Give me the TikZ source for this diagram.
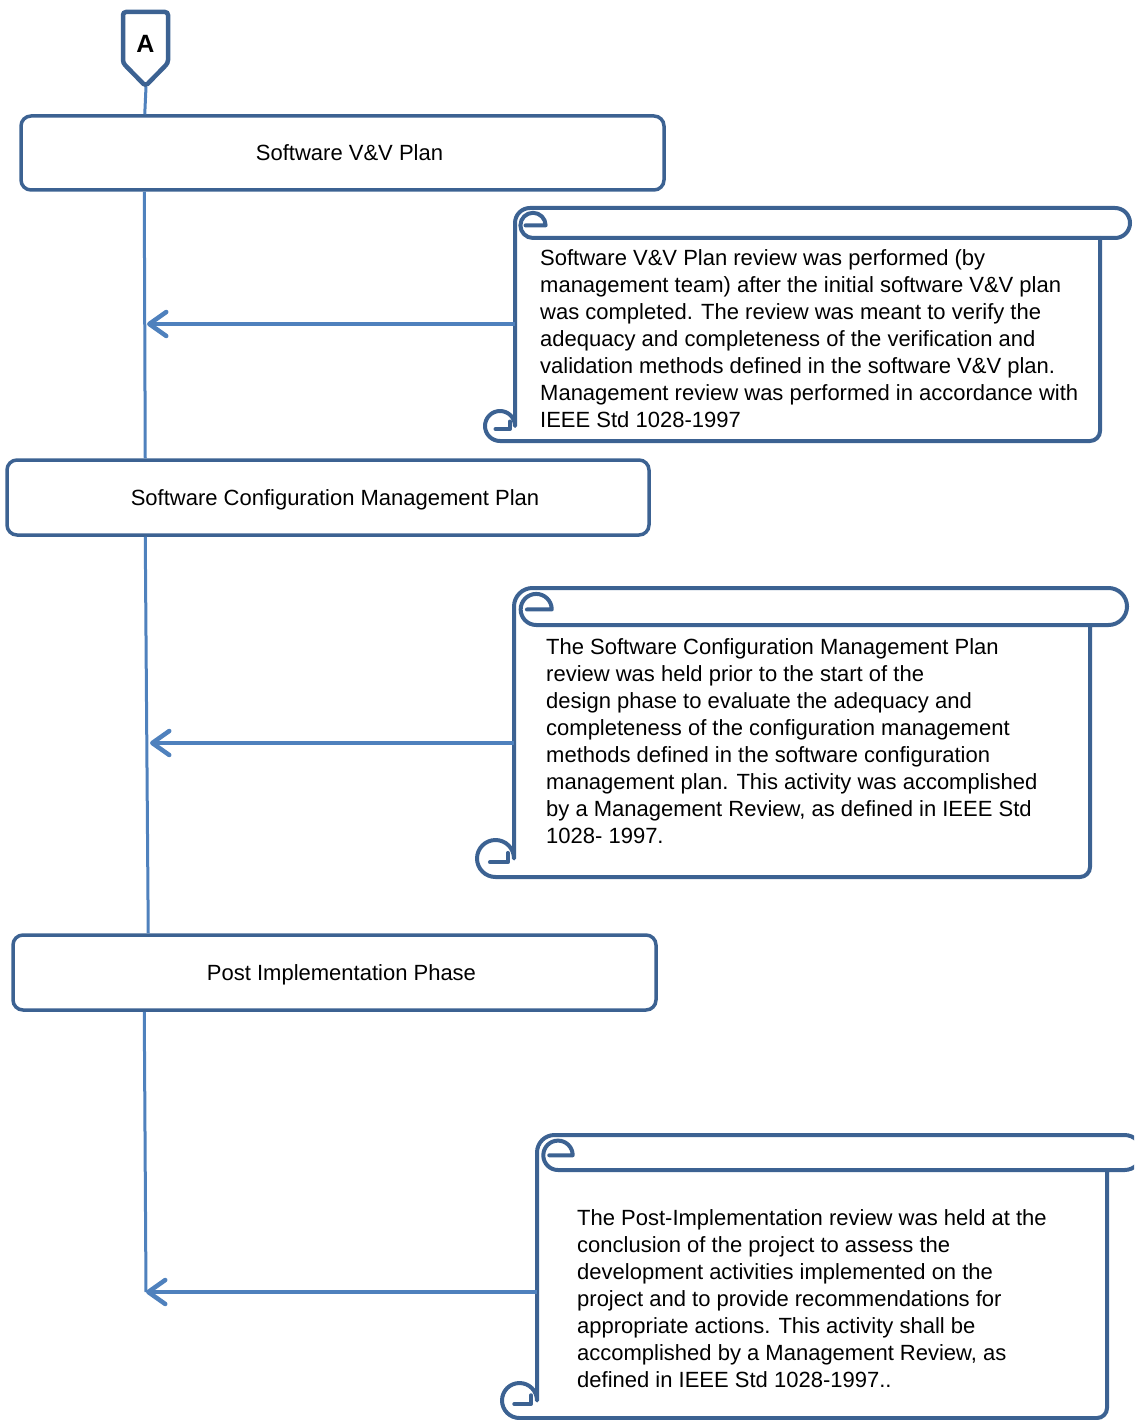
\documentclass[tikz,border=0pt]{standalone}
\usepackage{fontspec}
\setmainfont{Liberation Sans}
\usetikzlibrary{arrows.meta}
\definecolor{boxblue}{RGB}{60,98,146}
\definecolor{lineblue}{RGB}{79,129,189}
% #1=left #2=top #3=right #4=bottom #5=roll height
\newcommand\drawscroll[5]{%
  \pgfmathsetmacro\Sl{#1}\pgfmathsetmacro\St{#2}%
  \pgfmathsetmacro\Sr{#3}\pgfmathsetmacro\Sb{#4}%
  \pgfmathsetmacro\Sc{#5}\pgfmathsetmacro\Sh{#5/2}%
  \pgfmathsetmacro\Scx{#1+1.6*#5}\pgfmathsetmacro\Scy{#2+0.58*#5}%
  \pgfmathsetmacro\Scr{0.42*#5}%
  \draw[scrollline, fill=white]
    (\Sl+\Sc,\Sb-\Sh) -- (\Sl+\Sc,\St+\Sh)
    arc[start angle=180, end angle=270, radius=\Sh]
    -- (\Sr-\Sh,\St)
    arc[start angle=270, end angle=450, radius=\Sh]
    -- (\Sr-\Sc,\St+\Sc) -- (\Sr-\Sc,\Sb-10)
    arc[start angle=0, end angle=90, radius=10]
    -- (\Sl+\Sh,\Sb)
    arc[start angle=90, end angle=360, radius=\Sh] -- cycle;
  \draw[scrollline]
    (\Sr-\Sc,\St+\Sc) -- (\Scx,\St+\Sc)
    arc[start angle=90, end angle=360, radius=\Scr]
    -- (\Scx-0.25*\Sc,\Scy);
  \draw[scrollline]
    (\Sl+0.35*\Sc,\Sb-0.4*\Sc) -- (\Sl+0.83*\Sc,\Sb-0.4*\Sc) -- (\Sl+0.83*\Sc,\Sb-0.65*\Sc);
}
\begin{document}
\begin{tikzpicture}[x=1pt,y=-1pt,
  box/.style={draw=boxblue, line width=3.5pt, rounded corners=10pt, fill=white,
    inner sep=0pt, text height=15.75pt, text depth=0pt,
    font=\fontsize{22}{27}\selectfont},
  scrollline/.style={draw=boxblue, line width=4pt, line join=round, line cap=round},
  stext/.style={font=\fontsize{22}{27}\selectfont, align=left, inner sep=0pt, anchor=north west},
  spine/.style={draw=lineblue, line width=3pt},
  arr/.style={draw=lineblue, line width=4.5pt, -{Straight Barb[length=17pt, width=24pt, round]}}
]
\useasboundingbox (0,0) rectangle (1134,1420);
\clip (0,0) rectangle (1134,1420);

% off-page connector A
\draw[draw=boxblue, line width=4.5pt, rounded corners=3pt, fill=white]
  (123,12) -- (168,12) -- (168,63) -- (145.5,86) -- (123,63) -- cycle;
\node[font=\fontsize{25}{28}\selectfont\bfseries, inner sep=0pt] (A) at (145.5,44) {A};
\coordinate (Atip) at (146,87);

% phase boxes
\node[box, minimum width=643pt, minimum height=74pt] (b1) at (342.5,153) {\hspace*{14pt}Software V\&V Plan};
\node[box, minimum width=642pt, minimum height=75pt] (b2) at (328,497.5) {\hspace*{14pt}Software Configuration Management Plan};
\node[box, minimum width=643pt, minimum height=75pt] (b3) at (334.5,972.5) {\hspace*{14pt}Post Implementation Phase};

% spine
\coordinate (e1) at (147,324);
\coordinate (e2) at (150,743);
\coordinate (e3) at (146,1292);
\draw[spine] (Atip) -- ([xshift=125.5pt]b1.north west);
\draw[spine] ([xshift=125pt]b1.south west) -- ([xshift=140pt]b2.north west);
\draw[spine] ([xshift=140pt]b2.south west) -- ([xshift=137pt]b3.north west);
\draw[spine] ([xshift=133pt]b3.south west) -- (e3);

% scrolls
\drawscroll{485}{208}{1130}{441}{30}
\drawscroll{477}{588}{1127}{877}{37}
\drawscroll{502}{1135}{1142}{1418}{35}

\coordinate (s1) at (515,324);
\coordinate (s2) at (514,743);
\coordinate (s3) at (537,1292);

\node[stext] (t1) at (540,246) {\strut Software V\&V Plan review was performed (by\\
management team) after the initial software V\&V plan\\
was completed. The review was meant to verify the\\
adequacy and completeness of the verification and\\
validation methods defined in the software V\&V plan.\\
Management review was performed in accordance with\\
IEEE Std 1028-1997};

\node[stext] (t2) at (546,635) {\strut The Software Configuration Management Plan\\
review was held prior to the start of the\\
design phase to evaluate the adequacy and\\
completeness of the configuration management\\
methods defined in the software configuration\\
management plan. This activity was accomplished\\
by a Management Review, as defined in IEEE Std\\
1028- 1997.};

\node[stext] (t3) at (577,1206) {\strut The Post-Implementation review was held at the\\
conclusion of the project to assess the\\
development activities implemented on the\\
project and to provide recommendations for\\
appropriate actions. This activity shall be\\
accomplished by a Management Review, as\\
defined in IEEE Std 1028-1997..};

% arrows
\draw[arr] (s1) -- (e1);
\draw[arr] (s2) -- (e2);
\draw[arr] (s3) -- (e3);
\end{tikzpicture}
\end{document}
